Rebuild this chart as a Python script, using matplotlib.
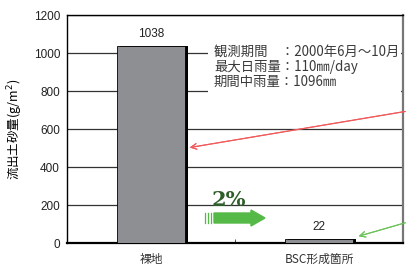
import matplotlib
matplotlib.use('Agg')
import matplotlib.pyplot as plt
from matplotlib.patches import FancyArrow, Rectangle

plt.rcParams['font.family'] = ['Noto Sans CJK JP', 'DejaVu Sans']

# データ
categories = ['裸地', 'BSC形成箇所']
values = [1038, 22]
yticks = [0, 200, 400, 600, 800, 1000, 1200]
notes = ['観測期間　：2000年6月～10月', '最大日雨量：110㎜/day', '期間中雨量：1096㎜']
ratio_label = '2%'

fig = plt.figure(figsize=(4.08, 2.66), dpi=100)
ax = fig.add_axes([67/408, 23/266, 336/408, 228/266])

x = list(range(len(categories)))
# 影 (右側の黒い縁)
ax.bar([i + 0.018 for i in x], values, width=0.4, color='black', zorder=2)
ax.bar(x, values, width=0.4, color='#8e8f92', edgecolor='black', linewidth=0.6, zorder=3)
for i, v in zip(x, values):
    ax.text(i, v + 28, str(v), ha='center', va='bottom', fontsize=8.5, color='#222222',
            family='Liberation Sans')

ax.set_xlim(-0.5, 1.5)
ax.set_ylim(0, 1200)
ax.set_yticks(yticks)
ax.set_yticklabels([str(t) for t in yticks], fontsize=8.5, color='#222222', family='Liberation Sans')
ax.set_xticks(x)
ax.set_xticklabels(categories, fontsize=8.5, color='#333333')
ax.tick_params(axis='x', length=0, pad=7)
ax.tick_params(axis='y', length=0, pad=5)
ax.set_xticks([0.5], minor=True)
ax.tick_params(axis='x', which='minor', direction='in', length=3, color='#333333')
ax.yaxis.grid(True, color='#333333', linewidth=0.9)
ax.set_axisbelow(True)
for s in ['left', 'top']:
    ax.spines[s].set_color('black')
    ax.spines[s].set_linewidth(1.0)
ax.spines['bottom'].set_linewidth(1.6)
ax.spines['right'].set_color('#777777')
ax.spines['right'].set_linewidth(1.6)
ax.set_ylabel('流出土砂量(g/m$^2$)', fontsize=9, labelpad=6)

# 注記 (白地で罫線を隠す)
fig.add_artist(Rectangle((208/408, 1 - 97/266), 193/408, 57/266, facecolor='white',
                         edgecolor='none', transform=fig.transFigure))
for k, t in enumerate(notes):
    fig.text(214/408, 1 - (52 + 15*k)/266, t, fontsize=9.6, color='#3a3a3a', va='center')

# 引き出し線
fig.add_artist(plt.annotate('', xy=(187/408, 1 - 148/266), xytext=(408/408, 1 - 111/266),
                            xycoords='figure fraction', textcoords='figure fraction',
                            arrowprops=dict(arrowstyle='->', color='#f05a5a', lw=0.8)))
fig.add_artist(plt.annotate('', xy=(356/408, 1 - 237/266), xytext=(408/408, 1 - 222/266),
                            xycoords='figure fraction', textcoords='figure fraction',
                            arrowprops=dict(arrowstyle='->', color='#6cc35a', lw=0.8)))

# 2% 矢印
green = '#55b947'
fig.text(212/408, 1 - 200/266, ratio_label, fontsize=15, fontweight='bold',
         family='DejaVu Serif', color='#2f5e2a', va='center')
fig.add_artist(FancyArrow(214/408, 1 - 218/266, 37/408, 0, width=10/266,
                          head_width=16/266, head_length=14/408, length_includes_head=False,
                          color=green, transform=fig.transFigure))
for xi in [205, 208, 211]:
    fig.add_artist(plt.Line2D([xi/408, xi/408], [1 - 223/266, 1 - 213/266], color=green,
                              lw=0.9, transform=fig.transFigure))

fig.savefig('out.png', dpi=100)
